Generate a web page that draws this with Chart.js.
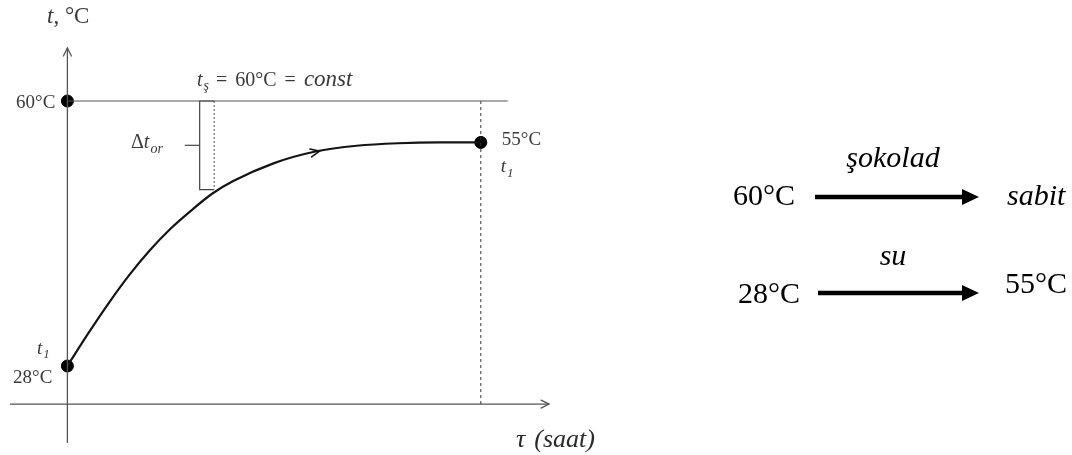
<!DOCTYPE html>
<html>
<head>
<meta charset="utf-8">
<script src="https://cdn.jsdelivr.net/npm/chart.js@4.4.1/dist/chart.umd.min.js"></script>
<style>
  html, body { margin: 0; padding: 0; background: #fff; }
  #wrap { position: relative; width: 1072px; height: 455px; }
</style>
</head>
<body>
<div id="wrap"><canvas id="heat-chart"></canvas></div>
<script>
// Water heating curve: τ (relative hours) -> t (°C)
var TAU  = [0, 0.5, 1, 1.5, 2, 2.5, 3, 3.5, 4, 5, 6, 7, 8, 9, 10];
var TEMP = [28, 31.9, 35.6, 39.0, 42.0, 44.6, 46.8, 48.8, 50.3, 52.5, 53.9, 54.6, 54.9, 55, 55];

// Key temperatures
var T_CHOC = 60;      // chocolate, kept constant
var T_START = 28;     // water in
var T_END = 55;       // water out
var TAU_END = 10;

// Δt_or bracket: measured between the 60 °C line and the curve
var TAU_DELTA = 3.55;
var T_DELTA_LOW = 49.3;

// Axis extents (data units)
var X_AXIS = { from: -1.39, to: 11.65, at: 23.4 };
var Y_AXIS = { from: 18.7, to: 66.4, at: 0 };
var TOP_LINE_END = 10.65;

// Scheme on the right: [left label, over-arrow label, right label]
var SCHEME_LEFT  = ['60°C', '28°C'];
var SCHEME_OVER  = ['şokolad', 'su'];
var SCHEME_RIGHT = ['sabit', '55°C'];

var AXIS_COLOR = '#555';
var LABEL_COLOR = '#3a3a3a';
var SERIF = "'Liberation Serif', 'DejaVu Serif', serif";

function seg(x1, y1, x2, y2) {
    return [{ x: x1, y: y1 }, { x: x2, y: y2 }];
}

function lineSet(data, color, width, dash) {
    return {
        type: 'line',
        data: data,
        borderColor: color,
        borderWidth: width,
        borderDash: dash || [],
        pointRadius: 0,
        fill: false,
        tension: 0
    };
}

var T_MID = (T_CHOC + T_DELTA_LOW) / 2;

var datasets = [
    lineSet(seg(X_AXIS.from, X_AXIS.at, X_AXIS.to, X_AXIS.at), AXIS_COLOR, 1.3),
    lineSet(seg(Y_AXIS.at, Y_AXIS.from, Y_AXIS.at, Y_AXIS.to), AXIS_COLOR, 1.3),
    lineSet(seg(0, T_CHOC, TOP_LINE_END, T_CHOC), AXIS_COLOR, 1.2),
    lineSet(seg(TAU_END, T_CHOC, TAU_END, X_AXIS.at), '#333', 1, [3, 3]),
    lineSet(seg(TAU_DELTA, T_CHOC, TAU_DELTA, T_DELTA_LOW), '#555', 1, [2, 2]),
    // bracket
    lineSet([
        { x: TAU_DELTA, y: T_CHOC }, { x: 3.2, y: T_CHOC },
        { x: 3.2, y: T_DELTA_LOW }, { x: TAU_DELTA, y: T_DELTA_LOW }
    ], '#444', 1.2),
    lineSet(seg(2.84, T_MID, 3.2, T_MID), '#444', 1.2),
    {
        type: 'line',
        data: TAU.map(function (x, i) { return { x: x, y: TEMP[i] }; }),
        borderColor: '#141414',
        borderWidth: 2.2,
        pointRadius: 0,
        fill: false,
        cubicInterpolationMode: 'monotone'
    },
    {
        type: 'scatter',
        data: [{ x: 0, y: T_CHOC }, { x: 0, y: T_START }, { x: TAU_END, y: T_END }],
        backgroundColor: '#000',
        borderColor: '#000',
        pointRadius: 6
    }
];

function chevron(ctx, x, y, angle, len, spread) {
    ctx.save();
    ctx.translate(x, y);
    ctx.rotate(angle);
    ctx.beginPath();
    ctx.moveTo(-len, -spread);
    ctx.lineTo(0, 0);
    ctx.lineTo(-len, spread);
    ctx.stroke();
    ctx.restore();
}

// draws base text with a smaller subscript, returns the end x
function subText(ctx, base, sub, x, y, size, italic) {
    ctx.font = (italic ? 'italic ' : '') + size + 'px ' + SERIF;
    ctx.fillText(base, x, y);
    var w = ctx.measureText(base).width;
    ctx.font = 'italic ' + Math.round(size * 0.7) + 'px ' + SERIF;
    ctx.fillText(sub, x + w + 1, y + size * 0.22);
    return x + w + 1 + ctx.measureText(sub).width;
}

// draws a run of [text, font] pieces left to right with a gap between them
function textRun(ctx, pieces, x, y, gap) {
    pieces.forEach(function (p) {
        ctx.font = p[1];
        ctx.fillText(p[0], x, y);
        x += ctx.measureText(p[0]).width + gap;
    });
    return x;
}

var decorations = {
    id: 'decorations',
    afterDatasetsDraw: function (chart) {
        var ctx = chart.ctx;
        var sx = chart.scales.x, sy = chart.scales.y;
        var px = function (v) { return sx.getPixelForValue(v); };
        var py = function (v) { return sy.getPixelForValue(v); };

        ctx.save();
        ctx.lineCap = 'round';

        // axis arrowheads
        ctx.strokeStyle = AXIS_COLOR;
        ctx.lineWidth = 1.3;
        chevron(ctx, px(X_AXIS.to), py(X_AXIS.at), 0, 8, 4);
        chevron(ctx, px(Y_AXIS.at), py(Y_AXIS.to), -Math.PI / 2, 8, 4);

        // direction arrow on the curve
        var a0 = { x: px(5), y: py(52.5) }, a1 = { x: px(7), y: py(54.6) };
        ctx.strokeStyle = '#141414';
        ctx.lineWidth = 1.6;
        chevron(ctx, px(6.1), py(53.95), Math.atan2(a1.y - a0.y, a1.x - a0.x), 9, 4);

        // left chart labels
        ctx.fillStyle = LABEL_COLOR;
        ctx.textBaseline = 'alphabetic';
        var f = '19px ' + SERIF;

        ctx.textAlign = 'left';
        textRun(ctx, [['t', 'italic 23px ' + SERIF], [', °C', '23px ' + SERIF]], 47, 23, 0);

        ctx.textAlign = 'right';
        ctx.font = f;
        ctx.fillText(T_CHOC + '°C', px(0) - 12, py(T_CHOC) + 7);
        ctx.fillText(T_START + '°C', px(0) - 15, py(T_START) + 17);
        ctx.textAlign = 'left';
        subText(ctx, 't', '1', 37, py(T_START) - 12, 19, true);

        ctx.font = f;
        ctx.fillText(T_END + '°C', px(TAU_END) + 21, py(T_END) + 3);
        subText(ctx, 't', '1', px(TAU_END) + 20, py(T_END) + 30, 19, true);

        // t_ş = 60°C = const above the chocolate line
        var y = py(T_CHOC) - 15;
        var x = subText(ctx, 't', 'ş', 197, y, 20, true) + 7;
        textRun(ctx, [
            ['=', '20px ' + SERIF],
            [T_CHOC + '°C', '20px ' + SERIF],
            ['=', '20px ' + SERIF],
            ['const', 'italic 23px ' + SERIF]
        ], x, y, 8);

        // Δt_or
        ctx.font = '20px ' + SERIF;
        var dw = ctx.measureText('Δ').width;
        ctx.fillText('Δ', 131, py(T_MID) + 3);
        subText(ctx, 't', 'or', 131 + dw, py(T_MID) + 3, 20, true);

        // τ (saat)
        ctx.fillStyle = '#2a2a2a';
        textRun(ctx, [['τ', 'italic 26px ' + SERIF], ['(saat)', 'italic 26px ' + SERIF]], 516, 447, 9);

        // scheme on the right
        var rows = [
            { arrowY: 197, leftX: 733, leftBase: 205, overBase: 167, rightX: 1007, rightBase: 205, x1: 815 },
            { arrowY: 293, leftX: 738, leftBase: 303, overBase: 265, rightX: 1005, rightBase: 293, x1: 818 }
        ];
        ctx.fillStyle = '#000';
        ctx.strokeStyle = '#000';
        rows.forEach(function (r, i) {
            ctx.textAlign = 'left';
            ctx.font = '30px ' + SERIF;
            ctx.fillText(SCHEME_LEFT[i], r.leftX, r.leftBase);
            ctx.font = (SCHEME_RIGHT[i].indexOf('°') < 0 ? 'italic ' : '') + '30px ' + SERIF;
            ctx.fillText(SCHEME_RIGHT[i], r.rightX, r.rightBase);
            ctx.textAlign = 'center';
            ctx.font = 'italic 30px ' + SERIF;
            ctx.fillText(SCHEME_OVER[i], 893, r.overBase);

            ctx.lineWidth = 4.5;
            ctx.lineCap = 'butt';
            ctx.beginPath();
            ctx.moveTo(r.x1, r.arrowY);
            ctx.lineTo(964, r.arrowY);
            ctx.stroke();
            ctx.beginPath();
            ctx.moveTo(979, r.arrowY);
            ctx.lineTo(962, r.arrowY - 8);
            ctx.lineTo(962, r.arrowY + 8);
            ctx.closePath();
            ctx.fill();
        });

        ctx.restore();
    }
};

new Chart(document.getElementById('heat-chart').getContext('2d'), {
    type: 'scatter',
    data: { datasets: datasets },
    options: {
        responsive: true,
        maintainAspectRatio: false,
        animation: false,
        layout: { padding: 0, autoPadding: false },
        plugins: { legend: { display: false }, tooltip: { enabled: false } },
        scales: {
            x: { type: 'linear', min: -1.63, max: 24.3, display: false },
            y: { type: 'linear', min: 17.25, max: 72.2, display: false }
        }
    },
    plugins: [decorations]
});
</script>
</body>
</html>
